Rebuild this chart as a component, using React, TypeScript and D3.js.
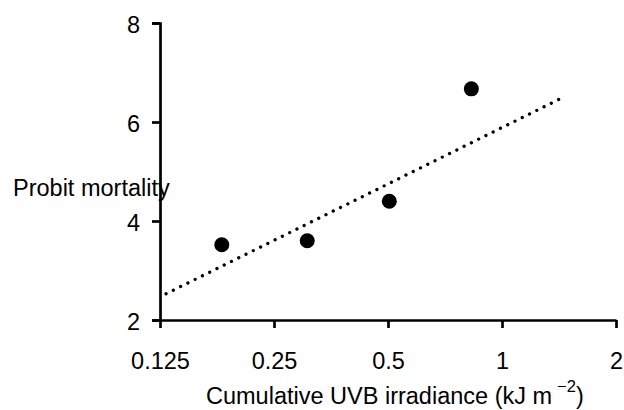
import React, { useEffect, useRef } from "react";
import * as d3 from "d3";

const xValues = [0.182, 0.306, 0.504, 0.83];
const yValues = [3.52, 3.6, 4.4, 6.67];
const trendX = [0.1297, 1.474];
const trendY = [2.53, 6.525];
const xTicks = [0.125, 0.25, 0.5, 1, 2];
const xTickLabels = ["0.125", "0.25", "0.5", "1", "2"];
const yTicks = [2, 4, 6, 8];

const W = 624;
const H = 410;
const FONT = "Arial, 'Liberation Sans', sans-serif";
const FS = "23.5px";

export default function App() {
  const ref = useRef<SVGSVGElement | null>(null);

  useEffect(() => {
    const svg = d3.select(ref.current);
    svg.selectAll("*").remove();

    const x = d3.scaleLog().base(2).domain([0.125, 2]).range([160, 616]);
    const y = d3.scaleLinear().domain([2, 8]).range([320, 23]);

    const yAxis = d3
      .axisLeft(y)
      .tickValues(yTicks)
      .tickFormat((d) => String(d))
      .tickSize(8)
      .tickSizeOuter(8)
      .tickPadding(12);
    const gy = svg.append("g").attr("transform", `translate(160,0)`).call(yAxis);

    const xAxis = d3
      .axisBottom(x)
      .tickValues(xTicks)
      .tickFormat((d, i) => xTickLabels[i])
      .tickSize(8)
      .tickSizeOuter(0)
      .tickPadding(10);
    const gx = svg.append("g").attr("transform", `translate(0,320)`).call(xAxis);

    [gx, gy].forEach((g) => {
      g.selectAll("path.domain").attr("stroke", "#000").attr("stroke-width", 2.7);
      g.selectAll(".tick line").attr("stroke", "#000").attr("stroke-width", 2.7);
      g.selectAll(".tick text")
        .attr("fill", "#000")
        .style("font-family", FONT)
        .style("font-size", FS);
    });
    gx.selectAll(".tick text").attr("y", 49).attr("dy", 0);
    gy.selectAll(".tick text").attr("dy", "0.4em");

    const line = d3
      .line<number>()
      .x((d, i) => x(trendX[i]))
      .y((d) => y(d));
    svg
      .append("path")
      .attr("d", line(trendY))
      .attr("fill", "none")
      .attr("stroke", "#000")
      .attr("stroke-width", 3.3)
      .attr("stroke-linecap", "round")
      .attr("stroke-dasharray", "0.01 8.1");

    svg
      .append("g")
      .selectAll("circle")
      .data(xValues)
      .join("circle")
      .attr("cx", (d) => x(d))
      .attr("cy", (d, i) => y(yValues[i]))
      .attr("r", 7.5)
      .attr("fill", "#000");

    svg
      .append("text")
      .attr("x", 13)
      .attr("y", 196)
      .style("font-family", FONT)
      .style("font-size", FS)
      .attr("fill", "#000")
      .text("Probit mortality");

    const t = svg
      .append("text")
      .attr("x", 206)
      .attr("y", 404)
      .style("font-family", FONT)
      .style("font-size", FS)
      .attr("fill", "#000");
    t.append("tspan").text("Cumulative UVB irradiance (kJ m");
    t.append("tspan").attr("dx", 5).attr("dy", -12).style("font-size", "16.5px").text("\u22122");
    t.append("tspan").attr("dy", 12).text(")");
  }, []);

  return (
    <svg
      ref={ref}
      width={W}
      height={H}
      style={{ position: "absolute", left: 0, top: 0, background: "#fff" }}
    />
  );
}
